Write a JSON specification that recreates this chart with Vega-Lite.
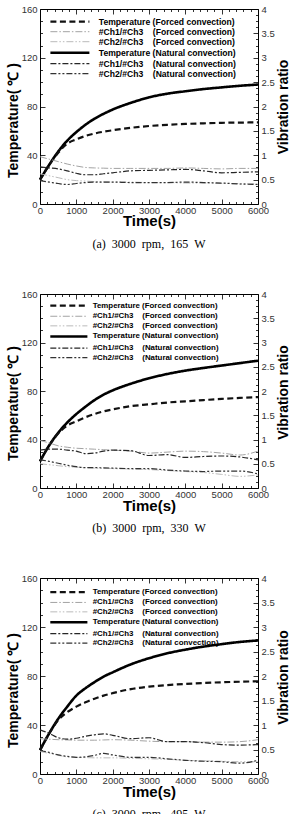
{
"$schema": "https://vega.github.io/schema/vega-lite/v6.json",
"padding": {"top": 4, "left": 6, "right": 0, "bottom": 0},
"spacing": 39,
"config": {
  "view": {"stroke": null},
  "axis": {"grid": false, "domainColor": "#000000", "domainWidth": 1, "tickColor": "#000000", "tickWidth": 0.8, "labelFont": "Liberation Sans", "labelFontSize": 9.5, "labelColor": "#333333", "labelOverlap": false, "labelFlush": false, "titleFont": "Liberation Sans", "titleFontWeight": "bold", "titleColor": "#000000"},
  "title": {"font": "Liberation Serif", "fontSize": 12, "fontWeight": "normal", "color": "#000000"}
},
"resolve": {"scale": {"color": "independent", "strokeDash": "independent"}},
"datasets": {
"T": [
{"p":"a","s":"TN","t":0,"v":20},{"p":"a","s":"TN","t":250,"v":32},{"p":"a","s":"TN","t":500,"v":43},{"p":"a","s":"TN","t":750,"v":52},{"p":"a","s":"TN","t":1000,"v":59},{"p":"a","s":"TN","t":1250,"v":65},{"p":"a","s":"TN","t":1500,"v":70},{"p":"a","s":"TN","t":1750,"v":74},{"p":"a","s":"TN","t":2000,"v":77.5},{"p":"a","s":"TN","t":2500,"v":83},{"p":"a","s":"TN","t":3000,"v":87.5},{"p":"a","s":"TN","t":3500,"v":90.5},{"p":"a","s":"TN","t":4000,"v":92.5},{"p":"a","s":"TN","t":4500,"v":94.3},{"p":"a","s":"TN","t":5000,"v":95.7},{"p":"a","s":"TN","t":5500,"v":97},{"p":"a","s":"TN","t":6000,"v":98},
{"p":"a","s":"TF","t":0,"v":20},{"p":"a","s":"TF","t":250,"v":32},{"p":"a","s":"TF","t":500,"v":42},{"p":"a","s":"TF","t":750,"v":49.5},{"p":"a","s":"TF","t":1000,"v":53},{"p":"a","s":"TF","t":1250,"v":55.8},{"p":"a","s":"TF","t":1500,"v":57.8},{"p":"a","s":"TF","t":1750,"v":59.3},{"p":"a","s":"TF","t":2000,"v":60.5},{"p":"a","s":"TF","t":2500,"v":62.5},{"p":"a","s":"TF","t":3000,"v":64},{"p":"a","s":"TF","t":3500,"v":65},{"p":"a","s":"TF","t":4000,"v":65.7},{"p":"a","s":"TF","t":4500,"v":66.2},{"p":"a","s":"TF","t":5000,"v":66.6},{"p":"a","s":"TF","t":5500,"v":66.8},{"p":"a","s":"TF","t":6000,"v":67},
{"p":"b","s":"TN","t":0,"v":22},{"p":"b","s":"TN","t":250,"v":35},{"p":"b","s":"TN","t":500,"v":45.5},{"p":"b","s":"TN","t":750,"v":54},{"p":"b","s":"TN","t":1000,"v":61},{"p":"b","s":"TN","t":1250,"v":67},{"p":"b","s":"TN","t":1500,"v":72.5},{"p":"b","s":"TN","t":1750,"v":77},{"p":"b","s":"TN","t":2000,"v":80.5},{"p":"b","s":"TN","t":2500,"v":86},{"p":"b","s":"TN","t":3000,"v":90.5},{"p":"b","s":"TN","t":3500,"v":94},{"p":"b","s":"TN","t":4000,"v":96.8},{"p":"b","s":"TN","t":4500,"v":99},{"p":"b","s":"TN","t":5000,"v":101},{"p":"b","s":"TN","t":5500,"v":103},{"p":"b","s":"TN","t":6000,"v":105},
{"p":"b","s":"TF","t":0,"v":22},{"p":"b","s":"TF","t":250,"v":35},{"p":"b","s":"TF","t":500,"v":45},{"p":"b","s":"TF","t":750,"v":51.5},{"p":"b","s":"TF","t":1000,"v":55},{"p":"b","s":"TF","t":1250,"v":58.3},{"p":"b","s":"TF","t":1500,"v":61},{"p":"b","s":"TF","t":1750,"v":63.2},{"p":"b","s":"TF","t":2000,"v":64.8},{"p":"b","s":"TF","t":2500,"v":67.5},{"p":"b","s":"TF","t":3000,"v":69},{"p":"b","s":"TF","t":3500,"v":70.5},{"p":"b","s":"TF","t":4000,"v":71.5},{"p":"b","s":"TF","t":4500,"v":72.5},{"p":"b","s":"TF","t":5000,"v":73.5},{"p":"b","s":"TF","t":5500,"v":74.3},{"p":"b","s":"TF","t":6000,"v":75},
{"p":"c","s":"TN","t":0,"v":19.5},{"p":"c","s":"TN","t":250,"v":33},{"p":"c","s":"TN","t":500,"v":45},{"p":"c","s":"TN","t":750,"v":55},{"p":"c","s":"TN","t":1000,"v":64},{"p":"c","s":"TN","t":1250,"v":70},{"p":"c","s":"TN","t":1500,"v":75},{"p":"c","s":"TN","t":1750,"v":79.5},{"p":"c","s":"TN","t":2000,"v":83},{"p":"c","s":"TN","t":2500,"v":89.5},{"p":"c","s":"TN","t":3000,"v":94.5},{"p":"c","s":"TN","t":3500,"v":98.5},{"p":"c","s":"TN","t":4000,"v":101.5},{"p":"c","s":"TN","t":4500,"v":104},{"p":"c","s":"TN","t":5000,"v":106},{"p":"c","s":"TN","t":5500,"v":107.8},{"p":"c","s":"TN","t":6000,"v":109},
{"p":"c","s":"TF","t":0,"v":19.5},{"p":"c","s":"TF","t":250,"v":33},{"p":"c","s":"TF","t":500,"v":44},{"p":"c","s":"TF","t":750,"v":50.5},{"p":"c","s":"TF","t":1000,"v":55},{"p":"c","s":"TF","t":1250,"v":58.5},{"p":"c","s":"TF","t":1500,"v":61.5},{"p":"c","s":"TF","t":1750,"v":64},{"p":"c","s":"TF","t":2000,"v":66},{"p":"c","s":"TF","t":2500,"v":69.3},{"p":"c","s":"TF","t":3000,"v":71.3},{"p":"c","s":"TF","t":3500,"v":72.6},{"p":"c","s":"TF","t":4000,"v":73.5},{"p":"c","s":"TF","t":4500,"v":74.3},{"p":"c","s":"TF","t":5000,"v":74.9},{"p":"c","s":"TF","t":5500,"v":75.3},{"p":"c","s":"TF","t":6000,"v":75.7}
],
"R": [
{"p":"a","s":"C1F","t":0,"v":0.97},{"p":"a","s":"C1F","t":250,"v":0.92},{"p":"a","s":"C1F","t":500,"v":0.87},{"p":"a","s":"C1F","t":750,"v":0.82},{"p":"a","s":"C1F","t":1000,"v":0.78},{"p":"a","s":"C1F","t":1250,"v":0.75},{"p":"a","s":"C1F","t":1500,"v":0.74},{"p":"a","s":"C1F","t":1750,"v":0.735},{"p":"a","s":"C1F","t":2000,"v":0.73},{"p":"a","s":"C1F","t":2500,"v":0.73},{"p":"a","s":"C1F","t":3000,"v":0.73},{"p":"a","s":"C1F","t":3500,"v":0.73},{"p":"a","s":"C1F","t":4000,"v":0.74},{"p":"a","s":"C1F","t":4500,"v":0.73},{"p":"a","s":"C1F","t":5000,"v":0.72},{"p":"a","s":"C1F","t":5500,"v":0.73},{"p":"a","s":"C1F","t":6000,"v":0.73},
{"p":"a","s":"C2F","t":0,"v":0.62},{"p":"a","s":"C2F","t":250,"v":0.58},{"p":"a","s":"C2F","t":500,"v":0.54},{"p":"a","s":"C2F","t":750,"v":0.5},{"p":"a","s":"C2F","t":1000,"v":0.48},{"p":"a","s":"C2F","t":1250,"v":0.47},{"p":"a","s":"C2F","t":1500,"v":0.46},{"p":"a","s":"C2F","t":1750,"v":0.455},{"p":"a","s":"C2F","t":2000,"v":0.45},{"p":"a","s":"C2F","t":2500,"v":0.45},{"p":"a","s":"C2F","t":3000,"v":0.44},{"p":"a","s":"C2F","t":3500,"v":0.44},{"p":"a","s":"C2F","t":4000,"v":0.43},{"p":"a","s":"C2F","t":4500,"v":0.43},{"p":"a","s":"C2F","t":5000,"v":0.42},{"p":"a","s":"C2F","t":5500,"v":0.42},{"p":"a","s":"C2F","t":6000,"v":0.41},
{"p":"a","s":"C1N","t":0,"v":0.76},{"p":"a","s":"C1N","t":250,"v":0.74},{"p":"a","s":"C1N","t":500,"v":0.72},{"p":"a","s":"C1N","t":750,"v":0.68},{"p":"a","s":"C1N","t":1000,"v":0.63},{"p":"a","s":"C1N","t":1250,"v":0.6},{"p":"a","s":"C1N","t":1500,"v":0.6},{"p":"a","s":"C1N","t":1750,"v":0.62},{"p":"a","s":"C1N","t":2000,"v":0.64},{"p":"a","s":"C1N","t":2500,"v":0.68},{"p":"a","s":"C1N","t":3000,"v":0.69},{"p":"a","s":"C1N","t":3500,"v":0.7},{"p":"a","s":"C1N","t":4000,"v":0.71},{"p":"a","s":"C1N","t":4500,"v":0.68},{"p":"a","s":"C1N","t":5000,"v":0.64},{"p":"a","s":"C1N","t":5500,"v":0.65},{"p":"a","s":"C1N","t":6000,"v":0.66},
{"p":"a","s":"C2N","t":0,"v":0.48},{"p":"a","s":"C2N","t":250,"v":0.45},{"p":"a","s":"C2N","t":500,"v":0.42},{"p":"a","s":"C2N","t":750,"v":0.4},{"p":"a","s":"C2N","t":1000,"v":0.42},{"p":"a","s":"C2N","t":1250,"v":0.44},{"p":"a","s":"C2N","t":1500,"v":0.45},{"p":"a","s":"C2N","t":1750,"v":0.45},{"p":"a","s":"C2N","t":2000,"v":0.45},{"p":"a","s":"C2N","t":2500,"v":0.44},{"p":"a","s":"C2N","t":3000,"v":0.44},{"p":"a","s":"C2N","t":3500,"v":0.44},{"p":"a","s":"C2N","t":4000,"v":0.45},{"p":"a","s":"C2N","t":4500,"v":0.44},{"p":"a","s":"C2N","t":5000,"v":0.43},{"p":"a","s":"C2N","t":5500,"v":0.41},{"p":"a","s":"C2N","t":6000,"v":0.4},
{"p":"b","s":"C1F","t":0,"v":0.98},{"p":"b","s":"C1F","t":250,"v":0.93},{"p":"b","s":"C1F","t":500,"v":0.87},{"p":"b","s":"C1F","t":750,"v":0.84},{"p":"b","s":"C1F","t":1000,"v":0.82},{"p":"b","s":"C1F","t":1250,"v":0.81},{"p":"b","s":"C1F","t":1500,"v":0.8},{"p":"b","s":"C1F","t":1750,"v":0.79},{"p":"b","s":"C1F","t":2000,"v":0.78},{"p":"b","s":"C1F","t":2500,"v":0.76},{"p":"b","s":"C1F","t":3000,"v":0.72},{"p":"b","s":"C1F","t":3500,"v":0.74},{"p":"b","s":"C1F","t":4000,"v":0.76},{"p":"b","s":"C1F","t":4500,"v":0.75},{"p":"b","s":"C1F","t":5000,"v":0.72},{"p":"b","s":"C1F","t":5500,"v":0.68},{"p":"b","s":"C1F","t":6000,"v":0.76},
{"p":"b","s":"C2F","t":0,"v":0.5},{"p":"b","s":"C2F","t":250,"v":0.48},{"p":"b","s":"C2F","t":500,"v":0.46},{"p":"b","s":"C2F","t":750,"v":0.44},{"p":"b","s":"C2F","t":1000,"v":0.43},{"p":"b","s":"C2F","t":1250,"v":0.42},{"p":"b","s":"C2F","t":1500,"v":0.41},{"p":"b","s":"C2F","t":1750,"v":0.405},{"p":"b","s":"C2F","t":2000,"v":0.4},{"p":"b","s":"C2F","t":2500,"v":0.39},{"p":"b","s":"C2F","t":3000,"v":0.38},{"p":"b","s":"C2F","t":3500,"v":0.36},{"p":"b","s":"C2F","t":4000,"v":0.34},{"p":"b","s":"C2F","t":4500,"v":0.32},{"p":"b","s":"C2F","t":5000,"v":0.28},{"p":"b","s":"C2F","t":5500,"v":0.24},{"p":"b","s":"C2F","t":6000,"v":0.27},
{"p":"b","s":"C1N","t":0,"v":0.78},{"p":"b","s":"C1N","t":250,"v":0.8},{"p":"b","s":"C1N","t":500,"v":0.8},{"p":"b","s":"C1N","t":750,"v":0.78},{"p":"b","s":"C1N","t":1000,"v":0.76},{"p":"b","s":"C1N","t":1250,"v":0.71},{"p":"b","s":"C1N","t":1500,"v":0.72},{"p":"b","s":"C1N","t":1750,"v":0.76},{"p":"b","s":"C1N","t":2000,"v":0.78},{"p":"b","s":"C1N","t":2500,"v":0.77},{"p":"b","s":"C1N","t":3000,"v":0.67},{"p":"b","s":"C1N","t":3500,"v":0.69},{"p":"b","s":"C1N","t":4000,"v":0.63},{"p":"b","s":"C1N","t":4500,"v":0.65},{"p":"b","s":"C1N","t":5000,"v":0.66},{"p":"b","s":"C1N","t":5500,"v":0.64},{"p":"b","s":"C1N","t":6000,"v":0.58},
{"p":"b","s":"C2N","t":0,"v":0.58},{"p":"b","s":"C2N","t":250,"v":0.55},{"p":"b","s":"C2N","t":500,"v":0.51},{"p":"b","s":"C2N","t":750,"v":0.47},{"p":"b","s":"C2N","t":1000,"v":0.44},{"p":"b","s":"C2N","t":1250,"v":0.42},{"p":"b","s":"C2N","t":1500,"v":0.42},{"p":"b","s":"C2N","t":1750,"v":0.415},{"p":"b","s":"C2N","t":2000,"v":0.41},{"p":"b","s":"C2N","t":2500,"v":0.4},{"p":"b","s":"C2N","t":3000,"v":0.4},{"p":"b","s":"C2N","t":3500,"v":0.37},{"p":"b","s":"C2N","t":4000,"v":0.35},{"p":"b","s":"C2N","t":4500,"v":0.34},{"p":"b","s":"C2N","t":5000,"v":0.35},{"p":"b","s":"C2N","t":5500,"v":0.35},{"p":"b","s":"C2N","t":6000,"v":0.29},
{"p":"c","s":"C1F","t":0,"v":0.72},{"p":"c","s":"C1F","t":250,"v":0.71},{"p":"c","s":"C1F","t":500,"v":0.7},{"p":"c","s":"C1F","t":750,"v":0.695},{"p":"c","s":"C1F","t":1000,"v":0.69},{"p":"c","s":"C1F","t":1250,"v":0.69},{"p":"c","s":"C1F","t":1500,"v":0.69},{"p":"c","s":"C1F","t":1750,"v":0.695},{"p":"c","s":"C1F","t":2000,"v":0.7},{"p":"c","s":"C1F","t":2500,"v":0.69},{"p":"c","s":"C1F","t":3000,"v":0.67},{"p":"c","s":"C1F","t":3500,"v":0.66},{"p":"c","s":"C1F","t":4000,"v":0.66},{"p":"c","s":"C1F","t":4500,"v":0.65},{"p":"c","s":"C1F","t":5000,"v":0.65},{"p":"c","s":"C1F","t":5500,"v":0.66},{"p":"c","s":"C1F","t":6000,"v":0.7},
{"p":"c","s":"C2F","t":0,"v":0.46},{"p":"c","s":"C2F","t":250,"v":0.42},{"p":"c","s":"C2F","t":500,"v":0.38},{"p":"c","s":"C2F","t":750,"v":0.35},{"p":"c","s":"C2F","t":1000,"v":0.34},{"p":"c","s":"C2F","t":1250,"v":0.335},{"p":"c","s":"C2F","t":1500,"v":0.33},{"p":"c","s":"C2F","t":1750,"v":0.33},{"p":"c","s":"C2F","t":2000,"v":0.33},{"p":"c","s":"C2F","t":2500,"v":0.32},{"p":"c","s":"C2F","t":3000,"v":0.31},{"p":"c","s":"C2F","t":3500,"v":0.3},{"p":"c","s":"C2F","t":4000,"v":0.28},{"p":"c","s":"C2F","t":4500,"v":0.27},{"p":"c","s":"C2F","t":5000,"v":0.26},{"p":"c","s":"C2F","t":5500,"v":0.25},{"p":"c","s":"C2F","t":6000,"v":0.25},
{"p":"c","s":"C1N","t":0,"v":0.9},{"p":"c","s":"C1N","t":250,"v":0.83},{"p":"c","s":"C1N","t":500,"v":0.74},{"p":"c","s":"C1N","t":750,"v":0.71},{"p":"c","s":"C1N","t":1000,"v":0.73},{"p":"c","s":"C1N","t":1250,"v":0.77},{"p":"c","s":"C1N","t":1500,"v":0.8},{"p":"c","s":"C1N","t":1750,"v":0.82},{"p":"c","s":"C1N","t":2000,"v":0.79},{"p":"c","s":"C1N","t":2500,"v":0.72},{"p":"c","s":"C1N","t":3000,"v":0.74},{"p":"c","s":"C1N","t":3500,"v":0.66},{"p":"c","s":"C1N","t":4000,"v":0.66},{"p":"c","s":"C1N","t":4500,"v":0.64},{"p":"c","s":"C1N","t":5000,"v":0.6},{"p":"c","s":"C1N","t":5500,"v":0.59},{"p":"c","s":"C1N","t":6000,"v":0.6},
{"p":"c","s":"C2N","t":0,"v":0.48},{"p":"c","s":"C2N","t":250,"v":0.44},{"p":"c","s":"C2N","t":500,"v":0.39},{"p":"c","s":"C2N","t":750,"v":0.36},{"p":"c","s":"C2N","t":1000,"v":0.34},{"p":"c","s":"C2N","t":1250,"v":0.35},{"p":"c","s":"C2N","t":1500,"v":0.38},{"p":"c","s":"C2N","t":1750,"v":0.42},{"p":"c","s":"C2N","t":2000,"v":0.39},{"p":"c","s":"C2N","t":2500,"v":0.34},{"p":"c","s":"C2N","t":3000,"v":0.34},{"p":"c","s":"C2N","t":3500,"v":0.31},{"p":"c","s":"C2N","t":4000,"v":0.28},{"p":"c","s":"C2N","t":4500,"v":0.26},{"p":"c","s":"C2N","t":5000,"v":0.25},{"p":"c","s":"C2N","t":5500,"v":0.22},{"p":"c","s":"C2N","t":6000,"v":0.28}
]
},
"vconcat": [
{
 "width": 218, "height": 195,
 "title": {"text": "(a)\u00a0\u00a03000\u00a0\u00a0rpm,\u00a0\u00a0165\u00a0\u00a0W", "orient": "bottom", "anchor": "middle", "offset": 10},
 "layer": [
  {"data": {"name": "T"}, "transform": [{"filter": "datum.p === 'a'"}],
   "mark": {"type": "line", "interpolate": "monotone"},
   "encoding": {
    "x": {"field": "t", "type": "quantitative", "scale": {"domain": [0, 6000], "nice": false},
      "axis": {"orient": "bottom", "values": [0,200,400,600,800,1000,1200,1400,1600,1800,2000,2200,2400,2600,2800,3000,3200,3400,3600,3800,4000,4200,4400,4600,4800,5000,5200,5400,5600,5800,6000], "labelExpr": "datum.value % 1000 === 0 ? format(datum.value, 'd') : ''", "tickSize": {"condition": {"test": "datum.value % 1000 === 0", "value": -5}, "value": -2.5}, "labelPadding": 6.5, "title": "Time(s)", "titleFontSize": 15, "titleY": 16.5, "titleBaseline": "middle"}},
    "y": {"field": "v", "type": "quantitative", "scale": {"domain": [0, 160], "nice": false},
      "axis": {"orient": "left", "values": [0,10,20,30,40,50,60,70,80,90,100,110,120,130,140,150,160], "labelExpr": "datum.value % 40 === 0 ? format(datum.value, 'd') : ''", "tickSize": {"condition": {"test": "datum.value % 40 === 0", "value": -5}, "value": -2.5}, "labelPadding": 8, "title": "Temperature( \u2103 )", "titleFontSize": 14, "titleAngle": -90, "titleBaseline": "middle", "titleAlign": "center", "titleX": -27, "titleY": 111}},
    "color": {"field": "s", "type": "nominal", "scale": {"domain": ["TF","C1F","C2F","TN","C1N","C2N"], "range": ["#111111","#999999","#b3b3b3","#000000","#262626","#333333"]},
      "legend": {"title": null, "orient": "none", "legendX": 25.6, "legendY": 8.4, "padding": 0, "symbolType": "M-4,0H4", "symbolSize": 95, "labelFont": "Liberation Sans", "labelFontWeight": "bold", "labelFontSize": 8.6, "labelColor": "#000000", "labelLimit": 400, "labelOffset": 24.6, "rowPadding": 1,
        "labelExpr": "['Temperature (Forced convection)','#Ch1/#Ch3\u00a0\u00a0\u00a0\u00a0(Forced convection)','#Ch2/#Ch3\u00a0\u00a0\u00a0\u00a0(Forced convection)','Temperature (Natural convection)','#Ch1/#Ch3\u00a0\u00a0\u00a0\u00a0(Natural convection)','#Ch2/#Ch3\u00a0\u00a0\u00a0\u00a0(Natural convection)'][indexof(['TF','C1F','C2F','TN','C1N','C2N'], datum.value)]",
        "encode": {"symbols": {"update": {"strokeWidth": {"signal": "datum.value === 'TN' ? 2.6 : datum.value === 'TF' ? 2.2 : (datum.value === 'C1F' || datum.value === 'C2F') ? 0.9 : 1.2"}}}}}},
    "strokeDash": {"field": "s", "type": "nominal", "scale": {"domain": ["TF","C1F","C2F","TN","C1N","C2N"], "range": [[6,3.5],[7,2,1.5,2],[7,2,1.5,2,1.5,2],[1,0],[6,2,2,2],[6,2,2,2,2,2]]}},
    "strokeWidth": {"condition": {"test": "datum.s === 'TN'", "value": 2.6}, "value": 2.2}
   }},
  {"data": {"name": "R"}, "transform": [{"filter": "datum.p === 'a'"}],
   "mark": {"type": "line", "interpolate": "monotone"},
   "encoding": {
    "x": {"field": "t", "type": "quantitative",
      "axis": {"orient": "top", "values": [0,200,400,600,800,1000,1200,1400,1600,1800,2000,2200,2400,2600,2800,3000,3200,3400,3600,3800,4000,4200,4400,4600,4800,5000,5200,5400,5600,5800,6000], "labels": false, "tickSize": {"condition": {"test": "datum.value % 1000 === 0", "value": -5}, "value": -2.5}, "title": null}},
    "y": {"field": "v", "type": "quantitative", "scale": {"domain": [0, 4], "nice": false},
      "axis": {"orient": "right", "values": [0,0.125,0.25,0.375,0.5,0.625,0.75,0.875,1,1.125,1.25,1.375,1.5,1.625,1.75,1.875,2,2.125,2.25,2.375,2.5,2.625,2.75,2.875,3,3.125,3.25,3.375,3.5,3.625,3.75,3.875,4], "labelExpr": "(datum.value * 2) % 1 === 0 ? format(datum.value, '~g') : ''", "tickSize": {"condition": {"test": "(datum.value * 2) % 1 === 0", "value": -5}, "value": -2.5}, "labelPadding": 8, "title": "Vibration ratio", "titleFontSize": 14, "titleAngle": -90, "titleBaseline": "middle", "titleAlign": "center", "titleX": 25, "titleY": 97.5}},
    "color": {"field": "s", "type": "nominal", "scale": {"domain": ["TF","C1F","C2F","TN","C1N","C2N"], "range": ["#111111","#999999","#b3b3b3","#000000","#262626","#333333"]}},
    "strokeDash": {"field": "s", "type": "nominal", "scale": {"domain": ["TF","C1F","C2F","TN","C1N","C2N"], "range": [[6,3.5],[7,2,1.5,2],[7,2,1.5,2,1.5,2],[1,0],[6,2,2,2],[6,2,2,2,2,2]]}},
    "strokeWidth": {"condition": {"test": "datum.s === 'C1N' || datum.s === 'C2N'", "value": 1.2}, "value": 0.9}
   }}
 ],
 "resolve": {"scale": {"y": "independent"}, "axis": {"x": "independent", "y": "independent"}}
},
{
 "width": 218, "height": 194,
 "title": {"text": "(b)\u00a0\u00a03000\u00a0\u00a0rpm,\u00a0\u00a0330\u00a0\u00a0W", "orient": "bottom", "anchor": "middle", "offset": 10},
 "layer": [
  {"data": {"name": "T"}, "transform": [{"filter": "datum.p === 'b'"}],
   "mark": {"type": "line", "interpolate": "monotone"},
   "encoding": {
    "x": {"field": "t", "type": "quantitative", "scale": {"domain": [0, 6000], "nice": false},
      "axis": {"orient": "bottom", "values": [0,200,400,600,800,1000,1200,1400,1600,1800,2000,2200,2400,2600,2800,3000,3200,3400,3600,3800,4000,4200,4400,4600,4800,5000,5200,5400,5600,5800,6000], "labelExpr": "datum.value % 1000 === 0 ? format(datum.value, 'd') : ''", "tickSize": {"condition": {"test": "datum.value % 1000 === 0", "value": -5}, "value": -2.5}, "labelPadding": 6.5, "title": "Time(s)", "titleFontSize": 15, "titleY": 17, "titleBaseline": "middle"}},
    "y": {"field": "v", "type": "quantitative", "scale": {"domain": [0, 160], "nice": false},
      "axis": {"orient": "left", "values": [0,10,20,30,40,50,60,70,80,90,100,110,120,130,140,150,160], "labelExpr": "datum.value % 40 === 0 ? format(datum.value, 'd') : ''", "tickSize": {"condition": {"test": "datum.value % 40 === 0", "value": -5}, "value": -2.5}, "labelPadding": 8, "title": "Temperature( \u2103 )", "titleFontSize": 14, "titleAngle": -90, "titleBaseline": "middle", "titleAlign": "center", "titleX": -27, "titleY": 109}},
    "color": {"field": "s", "type": "nominal", "scale": {"domain": ["TF","C1F","C2F","TN","C1N","C2N"], "range": ["#111111","#999999","#b3b3b3","#000000","#262626","#333333"]},
      "legend": {"title": null, "orient": "none", "legendX": 24.9, "legendY": 7.7, "padding": 0, "symbolType": "M-4,0H4", "symbolSize": 86, "labelFont": "Liberation Sans", "labelFontWeight": "bold", "labelFontSize": 7.9, "labelColor": "#000000", "labelLimit": 400, "labelOffset": 19.9, "rowPadding": 0.6,
        "labelExpr": "['Temperature (Forced convection)','#Ch1/#Ch3\u00a0\u00a0\u00a0\u00a0(Forced convection)','#Ch2/#Ch3\u00a0\u00a0\u00a0\u00a0(Forced convection)','Temperature (Natural convection)','#Ch1/#Ch3\u00a0\u00a0\u00a0\u00a0(Natural convection)','#Ch2/#Ch3\u00a0\u00a0\u00a0\u00a0(Natural convection)'][indexof(['TF','C1F','C2F','TN','C1N','C2N'], datum.value)]",
        "encode": {"symbols": {"update": {"strokeWidth": {"signal": "datum.value === 'TN' ? 2.6 : datum.value === 'TF' ? 2.2 : (datum.value === 'C1F' || datum.value === 'C2F') ? 0.9 : 1.2"}}}}}},
    "strokeDash": {"field": "s", "type": "nominal", "scale": {"domain": ["TF","C1F","C2F","TN","C1N","C2N"], "range": [[6,3.5],[7,2,1.5,2],[7,2,1.5,2,1.5,2],[1,0],[6,2,2,2],[6,2,2,2,2,2]]}},
    "strokeWidth": {"condition": {"test": "datum.s === 'TN'", "value": 2.6}, "value": 2.2}
   }},
  {"data": {"name": "R"}, "transform": [{"filter": "datum.p === 'b'"}],
   "mark": {"type": "line", "interpolate": "monotone"},
   "encoding": {
    "x": {"field": "t", "type": "quantitative",
      "axis": {"orient": "top", "values": [0,200,400,600,800,1000,1200,1400,1600,1800,2000,2200,2400,2600,2800,3000,3200,3400,3600,3800,4000,4200,4400,4600,4800,5000,5200,5400,5600,5800,6000], "labels": false, "tickSize": {"condition": {"test": "datum.value % 1000 === 0", "value": -5}, "value": -2.5}, "title": null}},
    "y": {"field": "v", "type": "quantitative", "scale": {"domain": [0, 4], "nice": false},
      "axis": {"orient": "right", "values": [0,0.125,0.25,0.375,0.5,0.625,0.75,0.875,1,1.125,1.25,1.375,1.5,1.625,1.75,1.875,2,2.125,2.25,2.375,2.5,2.625,2.75,2.875,3,3.125,3.25,3.375,3.5,3.625,3.75,3.875,4], "labelExpr": "(datum.value * 2) % 1 === 0 ? format(datum.value, '~g') : ''", "tickSize": {"condition": {"test": "(datum.value * 2) % 1 === 0", "value": -5}, "value": -2.5}, "labelPadding": 8, "title": "Vibration ratio", "titleFontSize": 14, "titleAngle": -90, "titleBaseline": "middle", "titleAlign": "center", "titleX": 25, "titleY": 98}},
    "color": {"field": "s", "type": "nominal", "scale": {"domain": ["TF","C1F","C2F","TN","C1N","C2N"], "range": ["#111111","#999999","#b3b3b3","#000000","#262626","#333333"]}},
    "strokeDash": {"field": "s", "type": "nominal", "scale": {"domain": ["TF","C1F","C2F","TN","C1N","C2N"], "range": [[6,3.5],[7,2,1.5,2],[7,2,1.5,2,1.5,2],[1,0],[6,2,2,2],[6,2,2,2,2,2]]}},
    "strokeWidth": {"condition": {"test": "datum.s === 'C1N' || datum.s === 'C2N'", "value": 1.2}, "value": 0.9}
   }}
 ],
 "resolve": {"scale": {"y": "independent"}, "axis": {"x": "independent", "y": "independent"}}
},
{
 "width": 218, "height": 196,
 "title": {"text": "(c)\u00a0\u00a03000\u00a0\u00a0rpm,\u00a0\u00a0495\u00a0\u00a0W", "orient": "bottom", "anchor": "middle", "offset": 10},
 "layer": [
  {"data": {"name": "T"}, "transform": [{"filter": "datum.p === 'c'"}],
   "mark": {"type": "line", "interpolate": "monotone"},
   "encoding": {
    "x": {"field": "t", "type": "quantitative", "scale": {"domain": [0, 6000], "nice": false},
      "axis": {"orient": "bottom", "values": [0,200,400,600,800,1000,1200,1400,1600,1800,2000,2200,2400,2600,2800,3000,3200,3400,3600,3800,4000,4200,4400,4600,4800,5000,5200,5400,5600,5800,6000], "labelExpr": "datum.value % 1000 === 0 ? format(datum.value, 'd') : ''", "tickSize": {"condition": {"test": "datum.value % 1000 === 0", "value": -5}, "value": -2.5}, "labelPadding": 6.5, "title": "Time(s)", "titleFontSize": 15, "titleY": 17, "titleBaseline": "middle"}},
    "y": {"field": "v", "type": "quantitative", "scale": {"domain": [0, 160], "nice": false},
      "axis": {"orient": "left", "values": [0,10,20,30,40,50,60,70,80,90,100,110,120,130,140,150,160], "labelExpr": "datum.value % 40 === 0 ? format(datum.value, 'd') : ''", "tickSize": {"condition": {"test": "datum.value % 40 === 0", "value": -5}, "value": -2.5}, "labelPadding": 8, "title": "Temperature( \u2103 )", "titleFontSize": 14, "titleAngle": -90, "titleBaseline": "middle", "titleAlign": "center", "titleX": -27, "titleY": 112}},
    "color": {"field": "s", "type": "nominal", "scale": {"domain": ["TF","C1F","C2F","TN","C1N","C2N"], "range": ["#111111","#999999","#b3b3b3","#000000","#262626","#333333"]},
      "legend": {"title": null, "orient": "none", "legendX": 24.9, "legendY": 10.1, "padding": 0, "symbolType": "M-4,0H4", "symbolSize": 86, "labelFont": "Liberation Sans", "labelFontWeight": "bold", "labelFontSize": 7.9, "labelColor": "#000000", "labelLimit": 400, "labelOffset": 19.9, "rowPadding": 0.4,
        "labelExpr": "['Temperature (Forced convection)','#Ch1/#Ch3\u00a0\u00a0\u00a0\u00a0(Forced convection)','#Ch2/#Ch3\u00a0\u00a0\u00a0\u00a0(Forced convection)','Temperature (Natural convection)','#Ch1/#Ch3\u00a0\u00a0\u00a0\u00a0(Natural convection)','#Ch2/#Ch3\u00a0\u00a0\u00a0\u00a0(Natural convection)'][indexof(['TF','C1F','C2F','TN','C1N','C2N'], datum.value)]",
        "encode": {"symbols": {"update": {"strokeWidth": {"signal": "datum.value === 'TN' ? 2.6 : datum.value === 'TF' ? 2.2 : (datum.value === 'C1F' || datum.value === 'C2F') ? 0.9 : 1.2"}}}}}},
    "strokeDash": {"field": "s", "type": "nominal", "scale": {"domain": ["TF","C1F","C2F","TN","C1N","C2N"], "range": [[6,3.5],[7,2,1.5,2],[7,2,1.5,2,1.5,2],[1,0],[6,2,2,2],[6,2,2,2,2,2]]}},
    "strokeWidth": {"condition": {"test": "datum.s === 'TN'", "value": 2.6}, "value": 2.2}
   }},
  {"data": {"name": "R"}, "transform": [{"filter": "datum.p === 'c'"}],
   "mark": {"type": "line", "interpolate": "monotone"},
   "encoding": {
    "x": {"field": "t", "type": "quantitative",
      "axis": {"orient": "top", "values": [0,200,400,600,800,1000,1200,1400,1600,1800,2000,2200,2400,2600,2800,3000,3200,3400,3600,3800,4000,4200,4400,4600,4800,5000,5200,5400,5600,5800,6000], "labels": false, "tickSize": {"condition": {"test": "datum.value % 1000 === 0", "value": -5}, "value": -2.5}, "title": null}},
    "y": {"field": "v", "type": "quantitative", "scale": {"domain": [0, 4], "nice": false},
      "axis": {"orient": "right", "values": [0,0.125,0.25,0.375,0.5,0.625,0.75,0.875,1,1.125,1.25,1.375,1.5,1.625,1.75,1.875,2,2.125,2.25,2.375,2.5,2.625,2.75,2.875,3,3.125,3.25,3.375,3.5,3.625,3.75,3.875,4], "labelExpr": "(datum.value * 2) % 1 === 0 ? format(datum.value, '~g') : ''", "tickSize": {"condition": {"test": "(datum.value * 2) % 1 === 0", "value": -5}, "value": -2.5}, "labelPadding": 8, "title": "Vibration ratio", "titleFontSize": 14, "titleAngle": -90, "titleBaseline": "middle", "titleAlign": "center", "titleX": 25, "titleY": 99}},
    "color": {"field": "s", "type": "nominal", "scale": {"domain": ["TF","C1F","C2F","TN","C1N","C2N"], "range": ["#111111","#999999","#b3b3b3","#000000","#262626","#333333"]}},
    "strokeDash": {"field": "s", "type": "nominal", "scale": {"domain": ["TF","C1F","C2F","TN","C1N","C2N"], "range": [[6,3.5],[7,2,1.5,2],[7,2,1.5,2,1.5,2],[1,0],[6,2,2,2],[6,2,2,2,2,2]]}},
    "strokeWidth": {"condition": {"test": "datum.s === 'C1N' || datum.s === 'C2N'", "value": 1.2}, "value": 0.9}
   }}
 ],
 "resolve": {"scale": {"y": "independent"}, "axis": {"x": "independent", "y": "independent"}}
}
]
}
